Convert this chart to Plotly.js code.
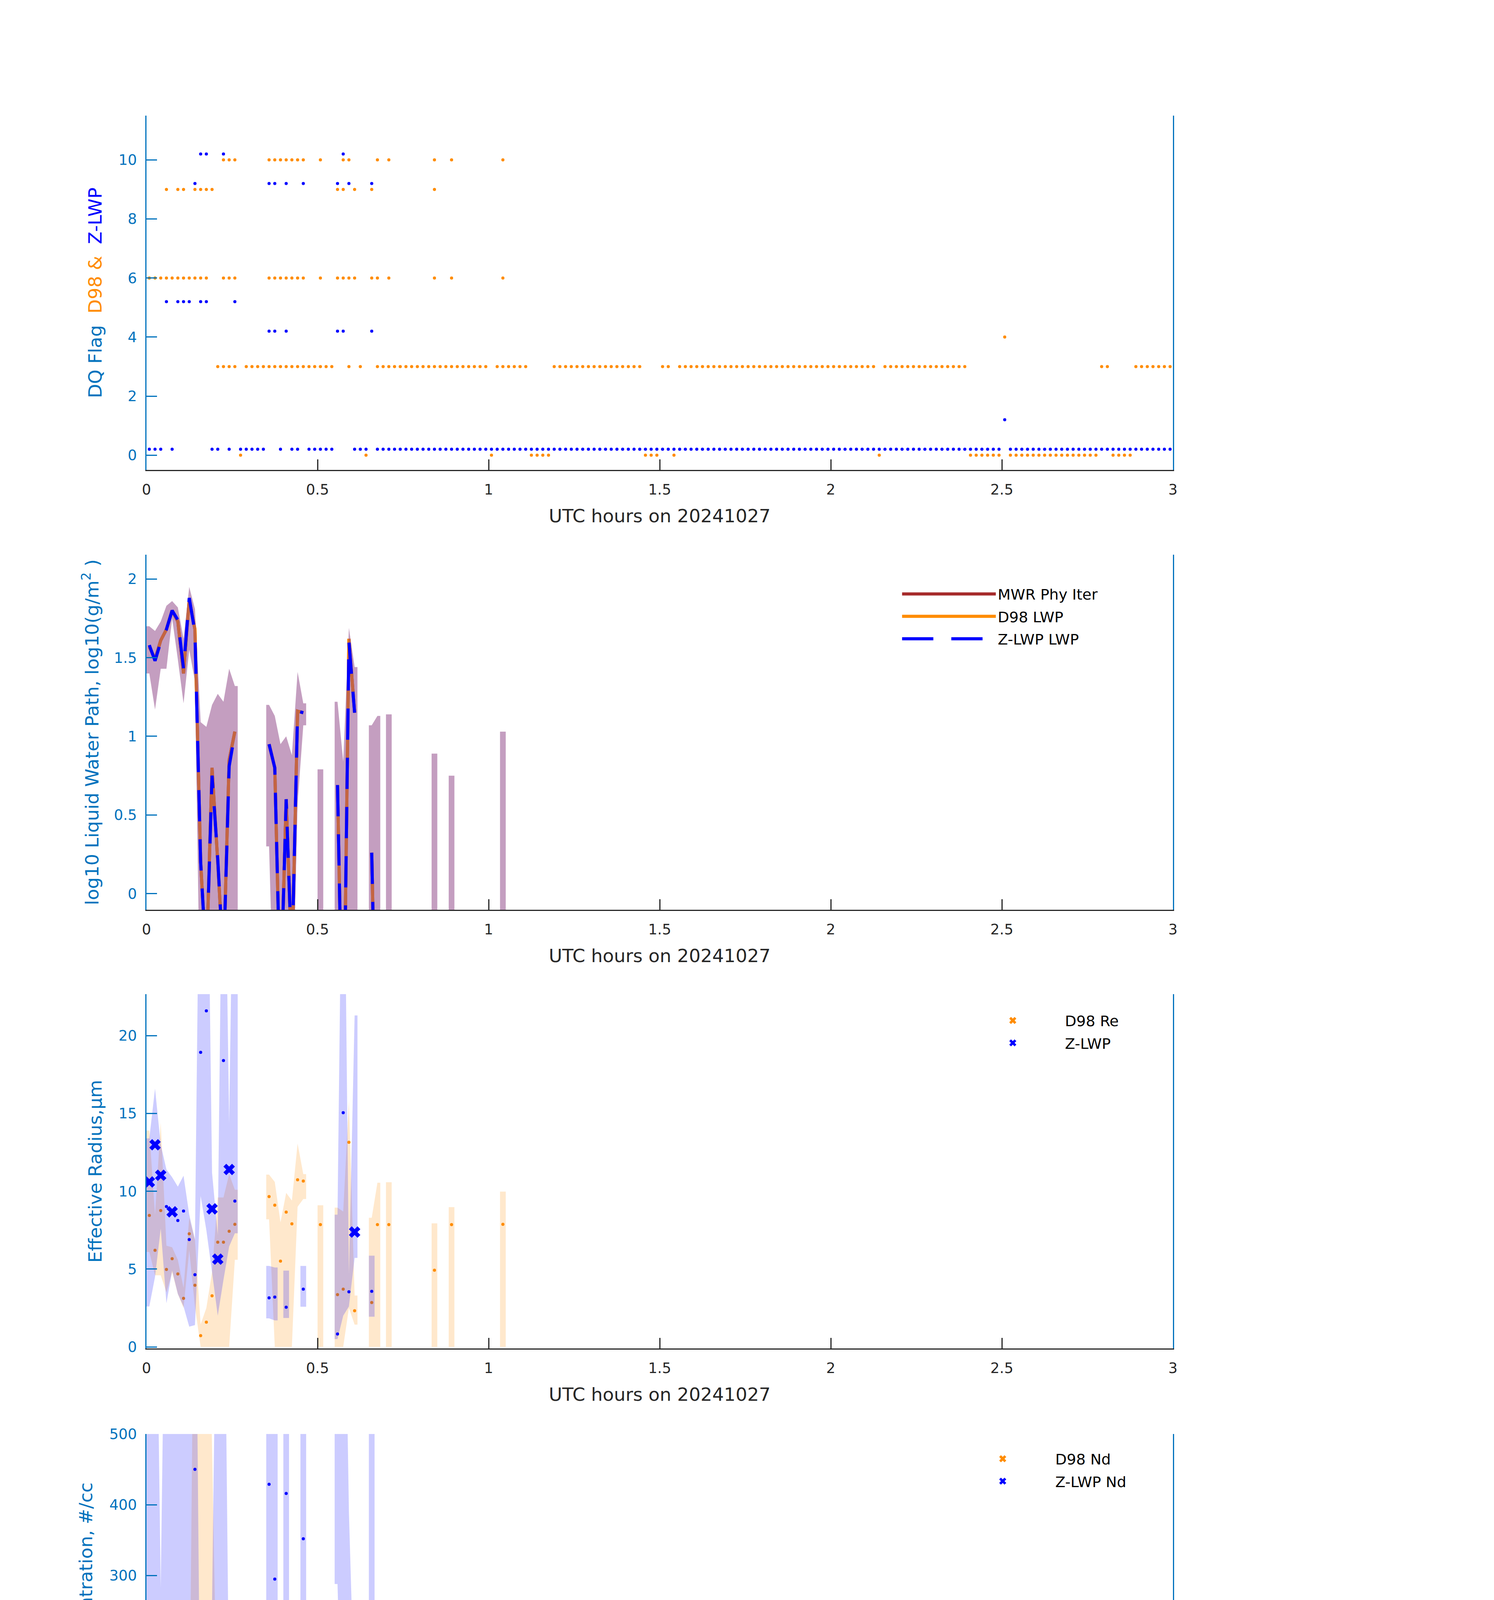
<!DOCTYPE html>
<html>
<head>
<meta charset="utf-8">
<script src="https://cdn.plot.ly/plotly-3.0.1.min.js"></script>
<style>
body { margin: 0; background: #fff; }
#chart { width: 3825px; height: 6000px; }
</style>
</head>
<body>
<div id="chart"></div>
<script>
// ---- panel 1 : DQ flags, as runs of minute index [first,last] (minute i sits at (i+0.5)/60 h)
var d98Flag0Runs = [[16,16],[38,38],[60,60],[67,70],[87,89],[92,92],[128,128],[144,149],[151,166],[169,172]];
var d98Flag3Runs = [[12,15],[17,32],[35,35],[37,37],[40,59],[61,66],[71,86],[90,91],[93,127],[129,143],[167,168],[173,179]];
var d98Flag4Runs = [[150,150],[180,180]];
var d98Flag6Runs = [[0,10],[13,15],[21,27],[30,30],[33,36],[39,40],[42,42],[50,50],[53,53],[62,62]];
var d98Flag9Runs = [[3,3],[5,6],[8,11],[33,34],[36,36],[39,39],[50,50]];
var d98Flag10Runs = [[13,15],[21,27],[30,30],[34,35],[40,40],[42,42],[50,50],[53,53],[62,62]];

var zFlag0Runs = [[0,2],[4,4],[11,12],[14,14],[16,20],[23,23],[25,26],[28,32],[36,38],[40,149],[151,179]];
var zFlag1Runs = [[150,150],[180,180]];
var zFlag4Runs = [[21,22],[24,24],[33,34],[39,39]];
var zFlag5Runs = [[3,3],[5,7],[9,10],[15,15]];
var zFlag9Runs = [[8,8],[21,22],[24,24],[27,27],[33,33],[35,35],[39,39]];
var zFlag10Runs = [[9,10],[13,13],[34,34]];

// ---- cloudy minutes used by panels 2-5
var cloudMin = [0,1,2,3,4,5,6,7,8,9,10,11,12,13,14,15, 21,22,23,24,25,26,27, 30, 33,34,35,36, 39,40, 42, 50, 53, 62];

// panel 2 : log10 LWP
var mwrLwp = [1.57,1.49,1.61,1.68,1.80,1.73,1.40,1.87,1.68,0.20,-0.45,0.80,0.20,-0.45,0.85,1.03, 0.95,0.80,-0.70,0.60,-0.45,1.16,1.15, null, 0.69,-1.2,1.62,1.15, 0.26,-1.5, null,null,null,null];
var d98Lwp = [1.57,1.49,1.61,1.68,1.80,1.73,1.40,1.87,1.68,0.20,-0.45,0.80,0.20,-0.45,0.85,1.03, 0.95,0.80,-0.70,0.60,-0.45,1.16,1.15, null, 0.69,-1.2,1.62,1.15, 0.26,-1.5, null,null,null,null];
var zLwp = [1.58,1.48,1.60,1.68,1.80,1.74,1.43,1.88,1.66,0.20,-0.45,0.75,0.22,-0.45,0.81,1.02, 0.95,0.80,-0.70,0.60,-0.45,1.16,1.15, null, 0.69,-1.2,1.60,1.15, 0.26,-1.5, null,null,null,null];
var lwpHi = [1.70,1.67,1.73,1.83,1.86,1.82,1.62,1.95,1.81,1.09,1.06,1.20,1.27,1.22,1.43,1.32, 1.20,1.13,0.95,1.00,0.88,1.41,1.21, 0.79, 1.22,0.84,1.69,1.44, 1.07,1.13, 1.14,0.89,0.75,1.03];
var lwpLo = [1.40,1.17,1.43,1.43,1.75,1.49,1.21,1.55,1.35,-1,-1,-1,-1,-1,-1,-1, 0.30,-1,-1,-1,-1,0.57,1.07, -1, -1,-1,-1,-1, -1,-1, -1,-1,-1,-1];

// panel 3 : effective radius (um)
var d98Re = [8.45,6.21,8.76,4.98,5.67,4.69,3.12,7.27,3.96,0.72,1.59,3.28,6.73,6.73,7.43,7.88, 9.66,9.11,5.51,8.66,7.91,10.74,10.66, 7.86, 3.36,3.71,13.15,2.32, 2.85,7.86, 7.86,4.93,7.86,7.88];
var d98ReHi = [13.9,8.5,14.4,6.5,6.4,5.6,3.8,8.3,6.9,1.45,2.5,4.8,9.6,9.6,11.1,10.1, 11.07,10.6,8.0,9.9,9.4,13.07,11.1, 9.1, 8.95,8.7,15.8,3.3, 8.3,10.55, 10.58,7.94,8.98,9.98];
var d98ReLo = [6.1,4.6,4.6,3.5,4.8,3.4,2.5,6.2,2.6,0,0,0,0,0,0,5.6, 8.2,0,0,0,0,9.0,9.5, 0, 0,0,2.5,1.43, 0,0, 0,0,0,0];
var zRe = [10.6,12.99,11.03,9.02,8.68,8.12,8.73,6.9,4.64,18.93,21.6,8.87,5.64,18.4,11.4,9.37, 3.15,3.2,null,2.55,null,null,3.71, null, 0.83,15.05,3.54,7.38, 3.57,null, null,null,null,null];
var zReHi = [13.4,16.6,13.0,11.4,10.9,10.3,11.0,8.5,6.9,40,40,11.2,7.2,40,14.4,40, 5.2,5.1,null,4.9,null,null,5.2, null, 8.5,40,4.7,21.3, 5.86,null, null,null,null,null];
var zReLo = [2.6,4.5,7.6,2.8,4.9,3.4,2.6,1.3,1.4,9.7,7.5,4.8,2.0,4.3,6.45,7.3, 1.83,1.7,null,1.86,null,null,2.58, null, 0.5,2.0,2.6,5.72, 1.94,null, null,null,null,null];

// panel 4 : droplet concentration (#/cc)
var d98Nd = [6.3,15,8.8,47,53,71,137,38,149,null,27,125,8.4,0.5,7,3.9, 1,1.8,0.4,2,0.3,2.5,2.1, 0.2, 22,0.3,2,129, 8.8,0.2, 0.2,0.1,0.1,0.1];
var d98NdHi = [15,40,65,79,68,100,200,50,900,900,900,482,40,20,15,10, 3,19,8,5,4,25,8, 2, 246,3,80,212, 133,5, 2,5,1,2];
var d98NdLo = [2,5,5,25,30,48,90,30,40,0,0,20,0,0,0,0, 0,0,0,0,0,0,0, 0, 0,0,0,0, 0,0, 0,0,0,0];
var zNd = [18,5.3,24.6,38,64,59,18,119,450,0.7,0.4,7.4,16,0.2,5.3,8.4, 429,295,null,416,null,null,352, null, null,0.2,null,30, 91,null, null,null,null,null];
var zNdHi = [900,900,283,900,900,900,900,900,900,5,200,260,900,900,109,32, 900,900,null,900,null,null,900, null, 900,900,390,115, 900,null, null,null,null,null];
var zNdLo = [3,2,12,12,32,30,9,90,60,0,0,4,0,0,0,0, 21,77,null,52,null,null,118, null, 288,0,1,0, 16,null, null,null,null,null];

// panel 5 : optical depth
var d98Od = [6.7,7.4,6.93,14.24,16.76,16.83,12.18,15.78,18.84,3.43,0.32,2.84,0.6,0.05,1.22,1.99, 1.37,1.0,0.04,0.67,0.03,1.99,1.95, 0.0, 2.16,0.05,4.54,8.95, 0.94,0.0, 0.0,0.0,0.0,0.0];
var d98OdHi = [9.4,9.0,10.6,16.3,18.1,18.6,14.0,25,25,17.44,17.44,17.44,17.44,17.44,17.44,4.1, 2.1,1.9,1.5,1.3,1.2,4.1,2.2, 1.7, 5.5,1.7,13.0,12.5, 4.5,1.9, 1.9,1.9,0.9,1.5];
var d98OdLo = [4.1,4.8,4.8,9.0,15.6,14.9,10.0,14.6,10.8,2.0,0,1.9,0,0,0,0, 0.4,0.5,0,0.2,0,1.0,1.8, 0, 0.8,0,0.2,0.6, 0.5,0, 0,0,0,0];
var zOd = [5.52,3.64,5.94,8.07,11.02,9.97,4.5,17.52,16.57,0.11,0.01,1.1,0.6,0.01,0.81,1.68, 4.24,2.9,null,2.37,null,null,5.78, null, 8.75,0.0,17.5,2.87, 0.76,null, null,null,null,null];
var zOdHi = [25,10.8,8.9,25,25,25,25,25,25,2.5,2.5,3.8,10.4,5.9,6.0,4.2, 9.1,8.5,null,8.4,null,null,8.5, null, 25,13,25,7.07, 9.0,null, null,null,null,null];
var zOdLo = [3.2,1.4,3.36,3.8,8.75,6.8,2.66,13.6,0.2,0.1,0,0.8,0.3,0,0,0, 0.4,1.8,null,1.2,null,null,4.1, null, 0.8,0,1.5,0, 0.5,null, null,null,null,null];

var FONT = 'DejaVu Sans';
var AXBLUE = '#0072BD';
var DARK = '#262626';
var ORANGE = '#FF8C00';
var BLUE = '#0000FF';

function toHour(m) { return (m + 0.5) / 60; }

function runsToMinutes(runs) {
  var out = [];
  runs.forEach(function(r) {
    for (var m = r[0]; m <= r[1]; m++) out.push(m);
  });
  return out;
}

var zGoodMin = runsToMinutes(zFlag0Runs);
var d98GoodMin = runsToMinutes(d98Flag0Runs);

// line through cloudy minutes, broken where minutes are not consecutive
function lineXY(vals) {
  var x = [], y = [];
  for (var k = 0; k < cloudMin.length; k++) {
    if (k > 0 && cloudMin[k] - cloudMin[k-1] > 1) { x.push(null); y.push(null); }
    x.push(toHour(cloudMin[k])); y.push(vals[k]);
  }
  return {x: x, y: y};
}

// closed band polygons, one per run of consecutive minutes, half a minute wider at the ends
function bandXY(hi, lo) {
  var x = [], y = [], seg = [], h = 0.5 / 60;
  function flush() {
    if (!seg.length) return;
    var first = seg[0], last = seg[seg.length-1];
    x.push(toHour(cloudMin[first]) - h); y.push(hi[first]);
    seg.forEach(function(k) { x.push(toHour(cloudMin[k])); y.push(hi[k]); });
    x.push(toHour(cloudMin[last]) + h); y.push(hi[last]);
    x.push(toHour(cloudMin[last]) + h); y.push(lo[last]);
    for (var j = seg.length - 1; j >= 0; j--) { x.push(toHour(cloudMin[seg[j]])); y.push(lo[seg[j]]); }
    x.push(toHour(cloudMin[first]) - h); y.push(lo[first]);
    x.push(null); y.push(null);
    seg = [];
  }
  for (var k = 0; k < cloudMin.length; k++) {
    if (hi[k] == null || lo[k] == null) { flush(); continue; }
    if (seg.length && cloudMin[k] - cloudMin[seg[seg.length-1]] > 1) flush();
    seg.push(k);
  }
  flush();
  return {x: x, y: y};
}

// split values by quality flag: flag 0 -> big x, otherwise dots
function splitByFlag(vals, goodMin, good) {
  var out = {x: [], y: []};
  for (var k = 0; k < cloudMin.length; k++) {
    if (vals[k] == null) continue;
    var isGood = goodMin.indexOf(cloudMin[k]) >= 0;
    if (isGood === good) { out.x.push(toHour(cloudMin[k])); out.y.push(vals[k]); }
  }
  // keep one blank entry so the legend still lists an empty series
  if (!out.x.length) { out.x.push(null); out.y.push(null); }
  return out;
}

var data = [];

// ---- panel 1
function flagTrace(runs, level, color, offset) {
  var mins = runsToMinutes(runs);
  return {
    x: mins.map(toHour), y: mins.map(function() { return level + offset; }),
    xaxis: 'x', yaxis: 'y', type: 'scatter', mode: 'markers',
    marker: {color: color, size: 8}, showlegend: false, hoverinfo: 'skip'
  };
}
[[d98Flag0Runs,0],[d98Flag3Runs,3],[d98Flag4Runs,4],[d98Flag6Runs,6],[d98Flag9Runs,9],[d98Flag10Runs,10]].forEach(function(p) {
  data.push(flagTrace(p[0], p[1], ORANGE, 0));
});
[[zFlag0Runs,0],[zFlag1Runs,1],[zFlag4Runs,4],[zFlag5Runs,5],[zFlag9Runs,9],[zFlag10Runs,10]].forEach(function(p) {
  data.push(flagTrace(p[0], p[1], BLUE, 0.2));
});

// ---- panel 2
var l;
l = lineXY(mwrLwp);
data.push({x: l.x, y: l.y, xaxis: 'x2', yaxis: 'y2', mode: 'lines', name: 'MWR Phy Iter',
  line: {color: '#A52A2A', width: 8}, legend: 'legend', legendgroup: 'mwr', hoverinfo: 'skip'});
l = lineXY(d98Lwp);
data.push({x: l.x, y: l.y, xaxis: 'x2', yaxis: 'y2', mode: 'lines', name: 'D98 LWP',
  line: {color: ORANGE, width: 8}, legend: 'legend', legendgroup: 'd98', hoverinfo: 'skip'});
var b = bandXY(lwpHi, lwpLo);
data.push({x: b.x, y: b.y, xaxis: 'x2', yaxis: 'y2', mode: 'none', fill: 'toself',
  fillcolor: 'rgba(137,61,129,0.5)', showlegend: false, hoverinfo: 'skip'});
l = lineXY(zLwp);
data.push({x: l.x, y: l.y, xaxis: 'x2', yaxis: 'y2', mode: 'lines', name: 'Z-LWP LWP',
  line: {color: BLUE, width: 8, dash: '80px,46px'}, legend: 'legend', legendgroup: 'zlwp', hoverinfo: 'skip'});

// ---- panels 3-5 share one layout of traces
function retrievalPanel(ax, lg, dv, dHi, dLo, zv, zHi, zLo, dName, zName) {
  var xa = 'x' + ax, ya = 'y' + ax;
  var bd = bandXY(dHi, dLo);
  data.push({x: bd.x, y: bd.y, xaxis: xa, yaxis: ya, mode: 'none', fill: 'toself',
    fillcolor: 'rgba(255,140,0,0.2)', showlegend: false, hoverinfo: 'skip'});
  var df = splitByFlag(dv, d98GoodMin, false);
  data.push({x: df.x, y: df.y, xaxis: xa, yaxis: ya, mode: 'markers',
    marker: {color: ORANGE, size: 8}, showlegend: false, hoverinfo: 'skip'});
  var bz = bandXY(zHi, zLo);
  data.push({x: bz.x, y: bz.y, xaxis: xa, yaxis: ya, mode: 'none', fill: 'toself',
    fillcolor: 'rgba(0,0,255,0.2)', showlegend: false, hoverinfo: 'skip'});
  var zf = splitByFlag(zv, zGoodMin, false);
  data.push({x: zf.x, y: zf.y, xaxis: xa, yaxis: ya, mode: 'markers',
    marker: {color: BLUE, size: 8}, showlegend: false, hoverinfo: 'skip'});
  var dg = splitByFlag(dv, d98GoodMin, true);
  data.push({x: dg.x, y: dg.y, xaxis: xa, yaxis: ya, mode: 'markers', name: dName,
    marker: {color: ORANGE, size: 26, symbol: 'x'}, legend: lg, legendgroup: 'd' + ax, hoverinfo: 'skip'});
  var zg = splitByFlag(zv, zGoodMin, true);
  data.push({x: zg.x, y: zg.y, xaxis: xa, yaxis: ya, mode: 'markers', name: zName,
    marker: {color: BLUE, size: 26, symbol: 'x'}, legend: lg, legendgroup: 'z' + ax, hoverinfo: 'skip'});
}
retrievalPanel(3, 'legend2', d98Re, d98ReHi, d98ReLo, zRe, zReHi, zReLo, 'D98 Re', 'Z-LWP');
retrievalPanel(4, 'legend3', d98Nd, d98NdHi, d98NdLo, zNd, zNdHi, zNdLo, 'D98 Nd', 'Z-LWP Nd');
retrievalPanel(5, 'legend4', d98Od, d98OdHi, d98OdLo, zOd, zOdHi, zOdLo, 'D98 OD', 'Z-LWP Nd');

// ---- layout
var XDOM = [375 / 3825, 3003 / 3825];
var yDomains = [[0.79950, 0.95067], [0.61183, 0.76333], [0.42467, 0.57583], [0.23717, 0.38817], [0.04967, 0.20083]];
var yRanges = [[-0.5, 11.5], [-0.103, 2.155], [-0.1, 22.67], [0, 500], [-0.1, 19.8]];
var yTicks = [[0,2,4,6,8,10], [0,0.5,1,1.5,2], [0,5,10,15,20], [0,100,200,300,400,500], [0,2,4,6,8,10,12,14,16,18]];
var yTitles = [
  'DQ Flag&nbsp;&nbsp;<span style="color:#FF8C00">D98 &amp;</span>&nbsp;&nbsp;<span style="color:#0000FF">Z-LWP</span>',
  'log10 Liquid Water Path, log10(g/m<sup>2</sup> )',
  'Effective Radius,&#956;m',
  'Droplet Concentration, #/cc',
  'Optical Depth'
];
var yTitleStandoff = [29, 25, 29, 29, 29];

var layout = {
  width: 3825, height: 6000,
  margin: {l: 0, r: 0, t: 0, b: 0},
  paper_bgcolor: '#fff', plot_bgcolor: 'rgba(0,0,0,0)',
  font: {family: FONT, size: 37, color: DARK},
  showlegend: true
};

for (var i = 0; i < 5; i++) {
  var n = i === 0 ? '' : String(i + 1);
  layout['xaxis' + n] = {
    domain: XDOM, anchor: 'y' + n, range: [0, 3],
    tickvals: [0, 0.5, 1, 1.5, 2, 2.5, 3], ticktext: ['0', '0.5', '1', '1.5', '2', '2.5', '3'],
    ticks: 'inside', ticklen: 27, tickwidth: 3, tickcolor: DARK,
    showline: true, linecolor: DARK, linewidth: 3,
    showgrid: false, zeroline: false,
    tickfont: {family: FONT, size: 37, color: DARK}, ticklabelstandoff: 16,
    title: {text: 'UTC hours on 20241027', font: {family: FONT, size: 47, color: DARK}, standoff: 30}
  };
  layout['yaxis' + n] = {
    domain: yDomains[i], anchor: 'x' + n, range: yRanges[i],
    tickvals: yTicks[i],
    ticks: 'inside', ticklen: 27, tickwidth: 3, tickcolor: AXBLUE,
    showline: true, linecolor: AXBLUE, linewidth: 3, mirror: true,
    showgrid: false, zeroline: false,
    tickfont: {family: FONT, size: 37, color: AXBLUE}, ticklabelstandoff: 14,
    title: {text: yTitles[i], font: {family: FONT, size: 47, color: AXBLUE}, standoff: yTitleStandoff[i]}
  };
}

var legendBase = {
  xanchor: 'left', yanchor: 'top', bgcolor: 'rgba(0,0,0,0)', borderwidth: 0,
  font: {family: FONT, size: 38, color: '#000'}, tracegroupgap: 5
};
layout.legend = Object.assign({}, legendBase, {x: 0.6025, y: 0.7518, itemwidth: 240});
layout.legend2 = Object.assign({}, legendBase, {x: 0.643, y: 0.5698, itemwidth: 257});
layout.legend3 = Object.assign({}, legendBase, {x: 0.636, y: 0.3828, itemwidth: 259});
layout.legend4 = Object.assign({}, legendBase, {x: 0.636, y: 0.1953, itemwidth: 259});

Plotly.newPlot('chart', data, layout, {displayModeBar: false, staticPlot: true});
</script>
</body>
</html>
